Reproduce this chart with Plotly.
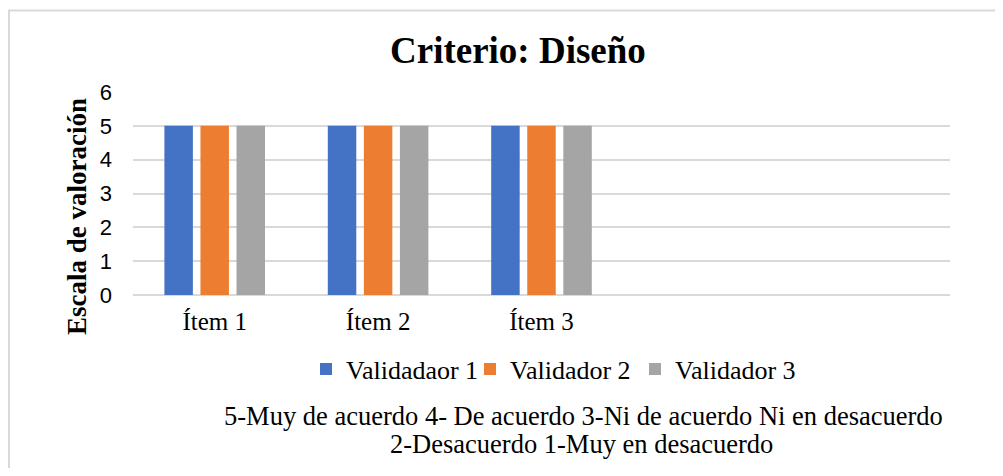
import plotly.graph_objects as go

categories = ["Ítem 1", "Ítem 2", "Ítem 3"]
series_names = ["Validadaor 1", "Validador 2", "Validador 3"]
validador1 = [5, 5, 5]
validador2 = [5, 5, 5]
validador3 = [5, 5, 5]
colors = ["#4472C4", "#ED7D31", "#A5A5A5"]
y_ticks = [0, 1, 2, 3, 4, 5, 6]

OFF = 8  # page body margin
W, H = 1003 - 2 * OFF, 476 - 2 * OFF
L, R, T, B = 133 - OFF, 950 - OFF, 92 - OFF, 295 - OFF  # plot area in figure px
pw, ph = R - L, B - T


def px(x):  # page px -> paper
    return (x - OFF - L) / pw


def py(y):
    return (B - (y - OFF)) / ph


serif = "Liberation Serif"
sans = "Liberation Sans"

legend_ids = ["legend", "legend2", "legend3"]
legend_left_px = [306, 470, 635]

fig = go.Figure()
for name, vals, col, lid in zip(series_names, [validador1, validador2, validador3], colors, legend_ids):
    fig.add_trace(go.Bar(x=categories, y=vals, name=name, marker_color=col,
                         marker_line_width=0, legend=lid))

legend_common = dict(orientation="h", yanchor="middle", xanchor="left",
                     font=dict(family=serif, size=26, color="#000000"),
                     itemwidth=30, bgcolor="rgba(0,0,0,0)")

fig.update_layout(
    width=W, height=H,
    margin=dict(l=L, r=W - R, t=T, b=H - B, pad=0),
    paper_bgcolor="white", plot_bgcolor="white",
    font=dict(family=serif, color="#000000"),
    barmode="group", bargap=0.338, bargroupgap=0.21,
    showlegend=True,
    xaxis=dict(type="category", range=[-0.5, 4.5], showgrid=False, zeroline=False,
               showline=False, ticks="", tickfont=dict(family=serif, size=25, color="#000000"),
               ticklabelstandoff=9),
    yaxis=dict(range=[0, 6], tickvals=y_ticks, showgrid=True, gridcolor="#D9D9D9",
               gridwidth=1.5, zeroline=True, zerolinecolor="#D9D9D9", zerolinewidth=1.5,
               showline=False, ticks="",
               tickfont=dict(family=sans, size=22, color="#000000"),
               ticklabelstandoff=20),
)
for lid, lx in zip(legend_ids, legend_left_px):
    fig.update_layout({lid: dict(legend_common, x=px(lx), y=py(369))})

# chart border
fig.add_shape(type="rect", xref="paper", yref="paper",
              x0=px(9), x1=px(1020), y0=py(500), y1=py(10.5),
              line=dict(color="#D9D9D9", width=2), fillcolor="rgba(0,0,0,0)", layer="below")

# title
fig.add_annotation(text="<b>Criterio: Diseño</b>", xref="paper", yref="paper",
                   x=px(518), y=py(51), xanchor="center", yanchor="middle", showarrow=False,
                   font=dict(family=serif, size=37, color="#000000"))

# y-axis title
fig.add_annotation(text="<b>Escala de valoración</b>", xref="paper", yref="paper",
                   x=px(77), y=py(217), xanchor="center", yanchor="middle", showarrow=False,
                   textangle=-90, font=dict(family=serif, size=27, color="#000000"))

# footnote
fig.add_annotation(text="5-Muy de acuerdo 4- De acuerdo 3-Ni de acuerdo Ni en desacuerdo",
                   xref="paper", yref="paper", x=px(583.5), y=py(416), xanchor="center",
                   yanchor="middle", showarrow=False,
                   font=dict(family=serif, size=26.5, color="#000000"))
fig.add_annotation(text="2-Desacuerdo 1-Muy en desacuerdo",
                   xref="paper", yref="paper", x=px(581.5), y=py(444), xanchor="center",
                   yanchor="middle", showarrow=False,
                   font=dict(family=serif, size=26.5, color="#000000"))

fig.write_html("out.html")
